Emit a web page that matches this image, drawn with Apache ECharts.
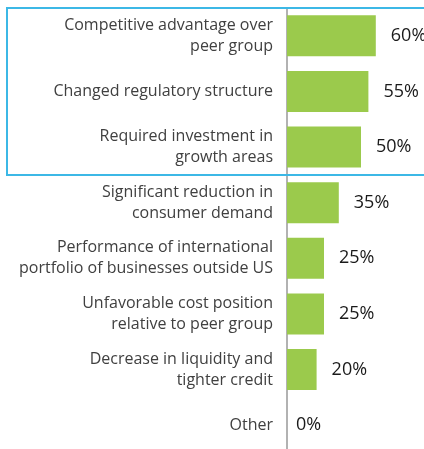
<!DOCTYPE html>
<html>
<head>
<meta charset="utf-8">
<script src="https://cdn.jsdelivr.net/npm/echarts@6/dist/echarts.min.js"></script>
<style>
  html, body { margin: 0; padding: 0; background: #fff; }
  #chart { width: 424px; height: 449px; }
</style>
</head>
<body>
<div id="chart"></div>
<script>
// categories, top to bottom
var categories = [
  "Competitive advantage over\npeer group",
  "Changed regulatory structure",
  "Required investment in\ngrowth areas",
  "Significant reduction in\nconsumer demand",
  "Performance of international\nportfolio of businesses outside US",
  "Unfavorable cost position\nrelative to peer group",
  "Decrease in liquidity and\ntighter credit",
  "Other"
];
var values = [60, 55, 50, 35, 25, 25, 20, 0];
// first N categories sit inside the highlight box
var highlighted = 3;

var chart = echarts.init(document.getElementById("chart"));

// zero bar has no width, its label sits closer to the axis
var barData = values.map(function (v) {
  return v === 0 ? { value: v, label: { distance: 9 } } : v;
});

chart.setOption({
  animation: false,
  grid: {
    left: 287,
    top: 8,
    width: 148,
    height: 445,
    outerBoundsMode: "none"
  },
  xAxis: {
    type: "value",
    min: 0,
    max: 100,
    show: false
  },
  yAxis: {
    type: "category",
    data: categories,
    inverse: true,
    axisTick: { show: false },
    axisLine: {
      lineStyle: { color: "#999", width: 1.5 }
    },
    axisLabel: {
      margin: 14,
      color: "#404040",
      fontFamily: "Open Sans",
      fontSize: 16,
      lineHeight: 21,
      align: "right"
    }
  },
  series: [
    {
      type: "bar",
      data: barData,
      barWidth: 41,
      itemStyle: { color: "#9bca4c" },
      label: {
        show: true,
        position: "right",
        distance: 15,
        formatter: "{c}%",
        color: "#1a1a1a",
        fontFamily: "Open Sans",
        fontSize: 18
      }
    }
  ]
});

// highlight box round the first rows
var top0 = chart.convertToPixel({ yAxisIndex: 0 }, 0);
var band = chart.convertToPixel({ yAxisIndex: 0 }, 1) - top0;
var boxTop = top0 - band / 2;
var boxBottom = boxTop + band * highlighted;
chart.setOption({
  graphic: [
    {
      type: "rect",
      shape: { x: 7, y: boxTop, width: 430, height: boxBottom - boxTop },
      style: { fill: null, stroke: "#3cb8e6", lineWidth: 2 },
      z: 100
    }
  ]
});
</script>
</body>
</html>
